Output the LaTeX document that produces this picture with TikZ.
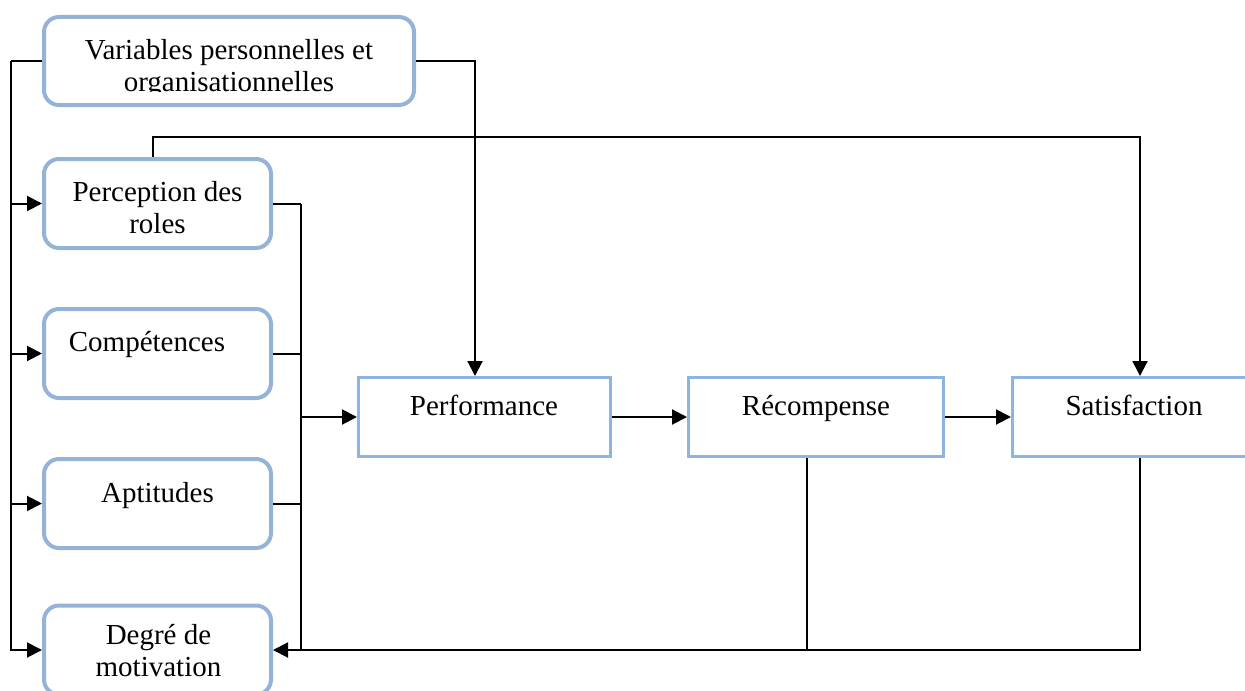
\documentclass[tikz,border=0pt]{standalone}
\usepackage{fontspec}
\setmainfont{Liberation Serif}
\usetikzlibrary{arrows.meta}

\definecolor{roundblue}{HTML}{95B3D7}
\definecolor{rectblue}{HTML}{8DB4E2}

\tikzset{
  rbox/.style={draw=roundblue,line width=2pt,rounded corners=7.5pt,
    minimum width=113.5pt,minimum height=44.5pt,inner sep=0pt},
  sbox/.style={draw=rectblue,line width=1.5pt,
    minimum width=127.5pt,minimum height=39.5pt,inner sep=0pt},
  txt/.style={font=\fontsize{14.5}{16}\selectfont,align=center,inner sep=0pt,anchor=base}
}

\begin{document}
\begin{tikzpicture}[x=0.5pt,y=-0.5pt,line width=1pt,>={Triangle[length=7.5pt,width=7.5pt]}]
\useasboundingbox (0,0) rectangle (1245,690);

% boites
\node[rbox,minimum width=185pt,minimum height=44pt] (var) at (229,61) {};
\node[rbox] (perc) at (157.5,203.5) {};
\node[rbox] (comp) at (157.5,353.5) {};
\node[rbox] (apt) at (157.5,503.5) {};
\node[rbox] (deg) at (157.5,650) {};
\node[sbox,minimum width=126pt] (perf) at (484.5,417) {};
\node[sbox] (rec) at (816,417) {};
\node[sbox] (sat) at (1140,417) {};

% textes (base = derniere ligne)
\begin{scope}
\clip (44,17) rectangle (414,92);
\node[txt] (var-t) at (229,91) {Variables personnelles et\\organisationnelles};
\end{scope}
\node[txt] (perc-t) at (157.5,233) {Perception des\\roles};
\node[txt] (comp-t) at (147,351) {Compétences};
\node[txt] (apt-t) at (157.5,502) {Aptitudes};
\node[txt] (deg-t) at (158.5,676) {Degré de\\motivation};
\node[txt] (perf-t) at (484,415) {Performance};
\node[txt] (rec-t) at (816,415) {Récompense};
\node[txt] (sat-t) at (1134,415) {Satisfaction};

% liaisons
\coordinate (l) at (11,61);
\coordinate (r) at (301,204);
\coordinate (v) at (475,61);
\draw (var.west) -- (l);
\draw[->] (l) |- (deg.west);
\foreach \b in {perc,comp,apt}
  \draw[->] (l |- \b.west) -- (\b.west);
\draw[->] (var.east) -- (v) -- (v |- perf.north);
\draw[->] ([xshift=-2.25pt]perc.north) -- ++(0,-20) -| (sat.north);
\foreach \b in {perc,comp,apt}
  \draw (\b.east) -- (r |- \b.east);
\draw (r |- perc.east) -- (r |- deg.east);
\draw[->] (r |- perf.west) -- (perf.west);
\draw[->] (perf) -- (rec);
\draw[->] (rec) -- (sat);
\draw[->] (sat.south) |- (deg.east);
\draw ([xshift=-4.5pt]rec.south) -- ([xshift=-4.5pt]rec.south |- deg.east);

\end{tikzpicture}
\end{document}
